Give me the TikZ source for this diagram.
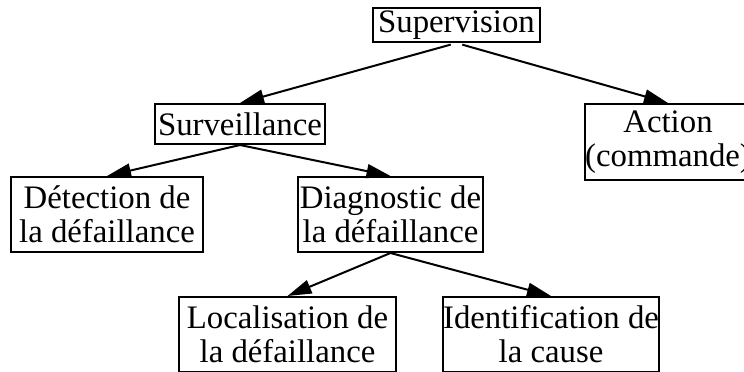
\documentclass[tikz,border=0pt]{standalone}
\usepackage{fontspec}
\setmainfont{Liberation Serif}
\usepackage{tikz}
\usetikzlibrary{arrows.meta}

\begin{document}
\begin{tikzpicture}[x=0.5pt, y=-0.5pt,
    box/.style={draw, line width=1pt, inner sep=0pt, align=center,
      font=\fontsize{16.4}{17}\selectfont},
    link/.style={-{Triangle[length=12pt, width=7pt]}, line width=1pt}]
    \useasboundingbox (0,0) rectangle (744,371);

    % Boxes of the tree
    \node[box, minimum width=83.5pt, minimum height=17pt] (sup) at (456.5,25) {Supervision};
    \node[box, minimum width=85pt, minimum height=20pt] (surv) at (240,124) {Surveillance};
    \node[box, minimum width=81pt, minimum height=38pt] (action) at (668,142) {Action\\(commande)};
    \node[box, minimum width=96pt, minimum height=37.5pt] (detect) at (107,214.5) {Détection de\\la défaillance};
    \node[box, minimum width=92.5pt, minimum height=37.5pt] (diag) at (390.5,214.5) {Diagnostic de\\la défaillance};
    \node[box, minimum width=108.5pt, minimum height=37.5pt] (local) at (287.5,334.5) {Localisation de\\la défaillance};
    \node[box, minimum width=108pt, minimum height=37.5pt] (ident) at (551,334.5) {Identification de\\la cause};

    % Arrows from each box to its children
    \foreach \a/\b in {sup/surv, sup/action} {
      \draw[link, shorten <=3pt] (\a.south) -- (\b.north);
    }
    \foreach \a/\b in {surv/detect, surv/diag, diag/local, diag/ident} {
      \draw[link] (\a.south) -- (\b.north);
    }

\end{tikzpicture}
\end{document}
